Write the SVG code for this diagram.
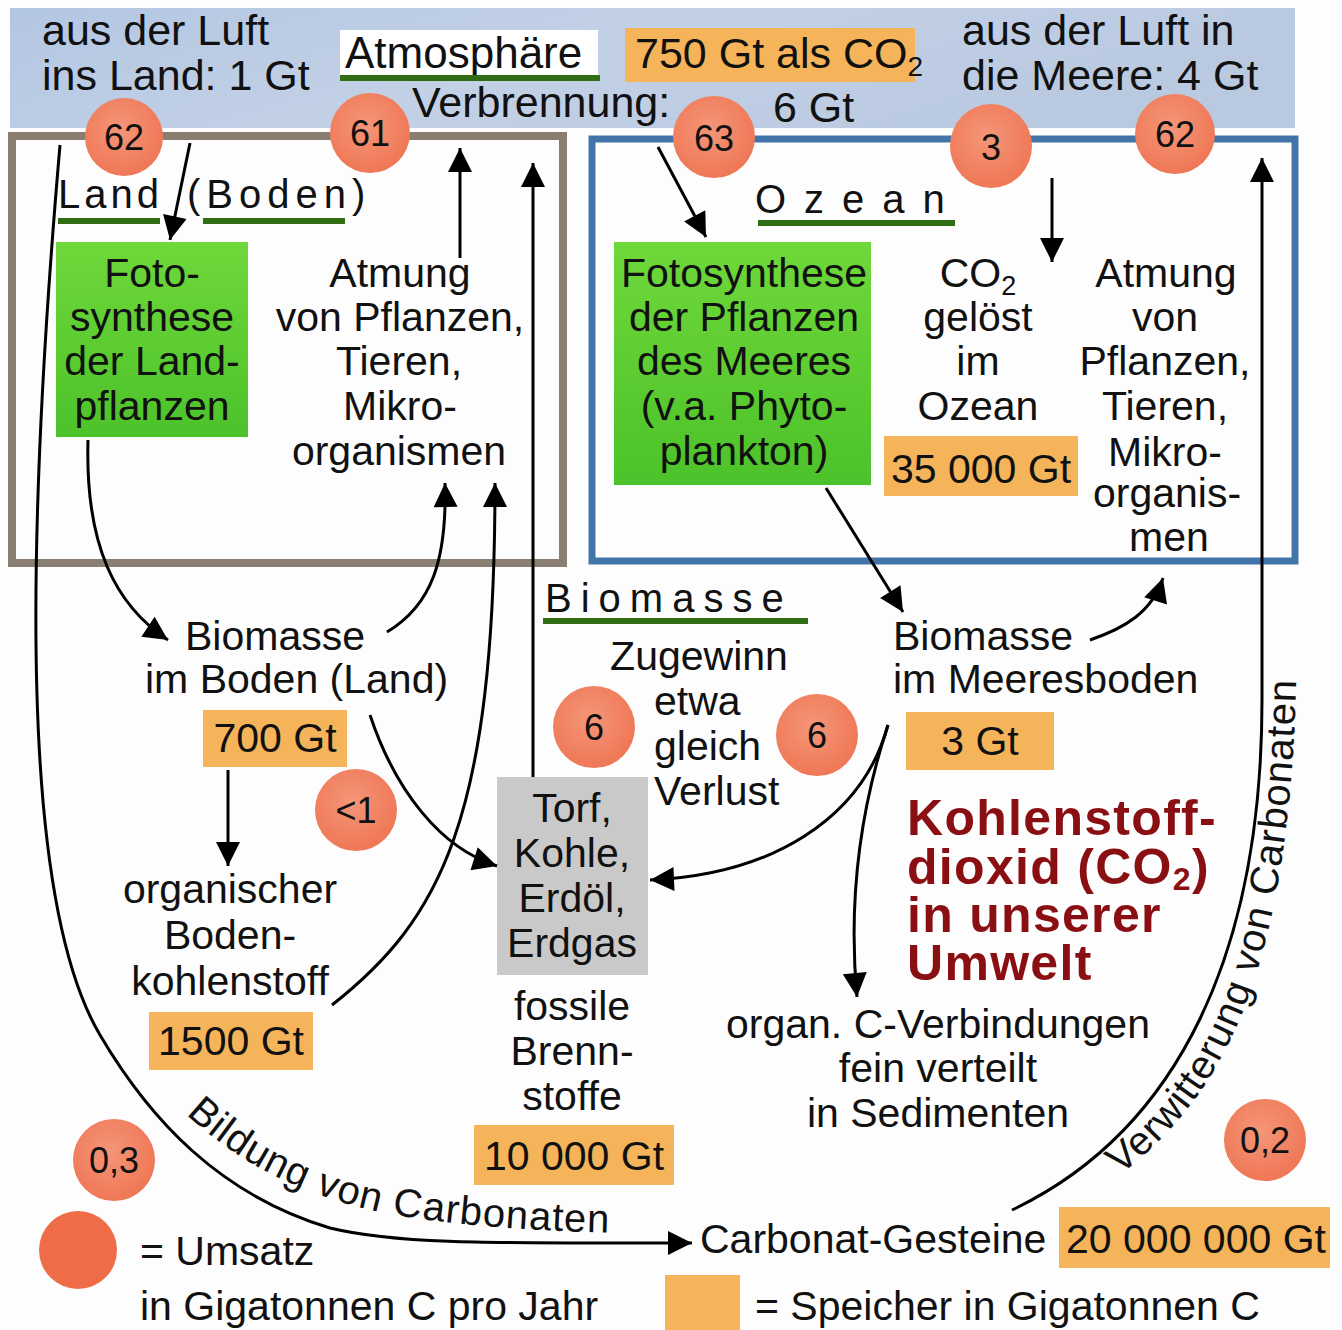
<svg xmlns="http://www.w3.org/2000/svg" width="1342" height="1330" viewBox="0 0 1342 1330">
<defs>
<linearGradient id="sky" x1="0" y1="0" x2="1" y2="0.3">
<stop offset="0" stop-color="#b3c6e2"/><stop offset="0.5" stop-color="#c3d1e6"/><stop offset="1" stop-color="#b9c9e0"/>
</linearGradient>
<linearGradient id="green" x1="0" y1="0" x2="0" y2="1">
<stop offset="0" stop-color="#6fd83a"/><stop offset="1" stop-color="#4cc22a"/>
</linearGradient>
<radialGradient id="circ" cx="0.45" cy="0.4" r="0.6">
<stop offset="0" stop-color="#f49678"/><stop offset="1" stop-color="#ef7756"/>
</radialGradient>
<marker id="ah" viewBox="0 0 10 10" refX="10" refY="5" markerWidth="28" markerHeight="24" markerUnits="userSpaceOnUse" orient="auto">
<path d="M0,0 L10,5 L0,10 Z" fill="#000"/>
</marker>
<style>
text{font-family:"Liberation Sans",Arial,sans-serif;fill:#111;}
.t{font-size:41px;}
.top{font-size:43px;}
.c{text-anchor:middle;}
.cn{font-size:36px;text-anchor:middle;}
.orange{fill:#f5b45a;}
.circle{fill:url(#circ);}
.conn{fill:none;stroke:#000;stroke-width:3;}
.arr{marker-end:url(#ah);}
.ul{stroke:#2f6e14;stroke-width:6;}
.head{font-size:50px;font-weight:bold;fill:#8a0f12;letter-spacing:1.3px;}
.sp{font-size:40px;}
.curv{font-size:40px;letter-spacing:1px;}
</style>
</defs>
<rect x="0" y="0" width="1342" height="1330" fill="#fdfdfd"/>
<g id="atmosphere">
<rect x="10" y="8" width="1285" height="120" fill="url(#sky)"/>
<text class="top" x="42" y="45">aus der Luft</text>
<text class="top" x="42" y="90">ins Land: 1 Gt</text>
<rect x="340" y="30" width="258" height="45" fill="#fff"/>
<text x="345" y="68" style="font-size:44px">Atmosphäre</text>
<line class="ul" x1="340" y1="78" x2="600" y2="78"/>
<rect class="orange" x="625" y="28" width="290" height="54"/>
<text class="top" x="635" y="68">750 Gt als CO<tspan font-size="28" dy="8">2</tspan></text>
<text class="top" x="412" y="117">Verbrennung:</text>
<text class="top" x="773" y="122">6 Gt</text>
<text class="top" x="962" y="45">aus der Luft in</text>
<text class="top" x="962" y="90">die Meere: 4 Gt</text>
</g>
<g id="land-box">
<rect x="12" y="136" width="551" height="427" fill="none" stroke="#8a7e72" stroke-width="8"/>
<text class="sp" x="58" y="208" letter-spacing="4">Land</text>
<line class="ul" x1="58" y1="221" x2="160" y2="221"/>
<text class="sp" x="187" y="208" letter-spacing="6">(Boden)</text>
<line class="ul" x1="203" y1="221" x2="345" y2="221"/>
</g>
<g id="ocean-box">
<rect x="592" y="139" width="703" height="422" fill="none" stroke="#4274aa" stroke-width="7"/>
<text class="sp" x="755" y="213" letter-spacing="18">Ozean</text>
<line class="ul" x1="758" y1="223" x2="955" y2="223"/>
</g>
<g id="land-photosynthesis">
<rect x="56" y="242" width="192" height="195" fill="url(#green)"/>
<text class="t c" x="152" y="287">Foto-</text>
<text class="t c" x="152" y="331">synthese</text>
<text class="t c" x="152" y="375">der Land-</text>
<text class="t c" x="152" y="420">pflanzen</text>
</g>
<g id="land-respiration">
<text class="t c" x="400" y="287">Atmung</text>
<text class="t c" x="400" y="331">von Pflanzen,</text>
<text class="t c" x="399" y="375">Tieren,</text>
<text class="t c" x="400" y="420">Mikro-</text>
<text class="t c" x="399" y="465">organismen</text>
</g>
<g id="ocean-photosynthesis">
<rect x="614" y="242" width="257" height="243" fill="url(#green)"/>
<text class="t c" x="744" y="287">Fotosynthese</text>
<text class="t c" x="744" y="331">der Pflanzen</text>
<text class="t c" x="744" y="375">des Meeres</text>
<text class="t c" x="744" y="420">(v.a. Phyto-</text>
<text class="t c" x="744" y="465">plankton)</text>
</g>
<g id="ocean-co2">
<text class="t c" x="978" y="287">CO<tspan font-size="27" dy="8">2</tspan></text>
<text class="t c" x="978" y="331">gelöst</text>
<text class="t c" x="978" y="375">im</text>
<text class="t c" x="978" y="420">Ozean</text>
<rect class="orange" x="884" y="436" width="194" height="60"/>
<text class="t c" x="981" y="483">35 000 Gt</text>
</g>
<g id="ocean-respiration">
<text class="t c" x="1166" y="287">Atmung</text>
<text class="t c" x="1165" y="331">von</text>
<text class="t c" x="1165" y="375">Pflanzen,</text>
<text class="t c" x="1165" y="420">Tieren,</text>
<text class="t c" x="1165" y="466">Mikro-</text>
<text class="t c" x="1167" y="507">organis-</text>
<text class="t c" x="1169" y="551">men</text>
</g>
<g id="biomass-title">
<text class="sp" x="545" y="612" letter-spacing="9">Biomasse</text>
<line class="ul" x1="543" y1="621" x2="808" y2="621"/>
<text class="t c" x="699" y="670">Zugewinn</text>
<text class="t" x="654" y="715">etwa</text>
<text class="t" x="654" y="760">gleich</text>
<text class="t" x="654" y="805">Verlust</text>
</g>
<g id="land-biomass">
<text class="t" x="185" y="650">Biomasse</text>
<text class="t" x="145" y="693">im Boden (Land)</text>
<rect class="orange" x="203" y="710" width="144" height="57"/>
<text class="t c" x="275" y="752">700 Gt</text>
</g>
<g id="ocean-biomass">
<text class="t" x="893" y="650">Biomasse</text>
<text class="t" x="893" y="693">im Meeresboden</text>
<rect class="orange" x="906" y="712" width="148" height="58"/>
<text class="t c" x="980" y="755">3 Gt</text>
</g>
<g id="soil-carbon">
<text class="t c" x="230" y="903">organischer</text>
<text class="t c" x="230" y="949">Boden-</text>
<text class="t c" x="230" y="995">kohlenstoff</text>
<rect class="orange" x="149" y="1012" width="164" height="58"/>
<text class="t c" x="231" y="1055">1500 Gt</text>
</g>
<g id="fossil">
<rect x="497" y="777" width="151" height="198" fill="#c9c9c9"/>
<text class="t c" x="572" y="822">Torf,</text>
<text class="t c" x="572" y="867">Kohle,</text>
<text class="t c" x="572" y="912">Erdöl,</text>
<text class="t c" x="572" y="957">Erdgas</text>
<text class="t c" x="572" y="1020">fossile</text>
<text class="t c" x="572" y="1065">Brenn-</text>
<text class="t c" x="572" y="1110">stoffe</text>
<rect class="orange" x="474" y="1125" width="200" height="60"/>
<text class="t c" x="574" y="1170">10 000 Gt</text>
</g>
<g id="sediments">
<text class="t c" x="938" y="1038">organ. C-Verbindungen</text>
<text class="t c" x="938" y="1082">fein verteilt</text>
<text class="t c" x="938" y="1127">in Sedimenten</text>
</g>
<g id="title">
<text class="head" x="907" y="835">Kohlenstoff-</text>
<text class="head" x="907" y="884">dioxid (CO<tspan font-size="32" dy="6">2</tspan><tspan dy="-6">)</tspan></text>
<text class="head" x="907" y="932">in unserer</text>
<text class="head" x="907" y="980">Umwelt</text>
</g>
<g id="carbonate-rocks">
<text class="t" x="700" y="1253">Carbonat-Gesteine</text>
<rect class="orange" x="1059" y="1207" width="271" height="61"/>
<text class="t c" x="1196" y="1253">20 000 000 Gt</text>
</g>
<g id="connectors">
<path class="conn arr" d="M60,145 C25,550 20,900 100,1035 C150,1120 220,1195 330,1228 C400,1245 500,1243 692,1243"/>
<path class="conn arr" d="M190,143 L170,240"/>
<path class="conn arr" d="M460,258 L460,148"/>
<path class="conn arr" d="M533,777 L533,163"/>
<path class="conn arr" d="M88,440 C85,545 115,605 168,640"/>
<path class="conn arr" d="M387,632 C432,605 447,560 445,483"/>
<path class="conn arr" d="M332,1005 C440,920 495,820 495,483"/>
<path class="conn arr" d="M370,715 C395,790 440,848 497,866"/>
<path class="conn arr" d="M228,770 L228,866"/>
<path class="conn arr" d="M658,147 L706,237"/>
<path class="conn arr" d="M1052,178 L1052,262"/>
<path class="conn arr" d="M1012,1210 C1180,1130 1262,950 1262,700 L1262,158"/>
<path class="conn arr" d="M826,488 L903,612"/>
<path class="conn arr" d="M1090,640 C1125,628 1152,612 1163,578"/>
<path class="conn arr" d="M888,725 C862,820 770,875 650,880"/>
<path class="conn arr" d="M888,725 C860,810 848,900 857,997"/>
<path id="p-bildung" d="M186,1114 C240,1165 310,1200 400,1216 C480,1228 560,1232 630,1233" fill="none"/>
<text class="curv"><textPath href="#p-bildung">Bildung von Carbonaten</textPath></text>
<path id="p-verw" d="M1120,1175 C1230,1090 1297,960 1297,620" fill="none"/>
<text class="curv"><textPath href="#p-verw">Verwitterung von Carbonaten</textPath></text>
</g>
<g id="fluxes">
<circle class="circle" cx="124" cy="137" r="39"/><text class="cn" x="124" y="150">62</text>
<circle class="circle" cx="370" cy="133" r="40"/><text class="cn" x="370" y="146">61</text>
<circle class="circle" cx="714" cy="137" r="41"/><text class="cn" x="714" y="151">63</text>
<ellipse class="circle" cx="991" cy="146" rx="41" ry="42"/><text class="cn" x="991" y="160">3</text>
<circle class="circle" cx="1175" cy="134" r="40"/><text class="cn" x="1175" y="147">62</text>
<circle class="circle" cx="594" cy="727" r="41"/><text class="cn" x="594" y="740">6</text>
<circle class="circle" cx="817" cy="735" r="41"/><text class="cn" x="817" y="748">6</text>
<circle class="circle" cx="356" cy="810" r="41"/><text class="cn" x="356" y="823">&lt;1</text>
<circle class="circle" cx="114" cy="1160" r="41"/><text class="cn" x="114" y="1173">0,3</text>
<circle class="circle" cx="1265" cy="1140" r="41"/><text class="cn" x="1265" y="1153">0,2</text>
</g>
<g id="legend">
<circle cx="78" cy="1250" r="39" fill="#ee6c48"/>
<text class="t" x="140" y="1265">= Umsatz</text>
<text class="t" x="140" y="1320">in Gigatonnen C pro Jahr</text>
<rect class="orange" x="665" y="1275" width="75" height="55"/>
<text class="t" x="755" y="1320">= Speicher in Gigatonnen C</text>
</g>
</svg>
